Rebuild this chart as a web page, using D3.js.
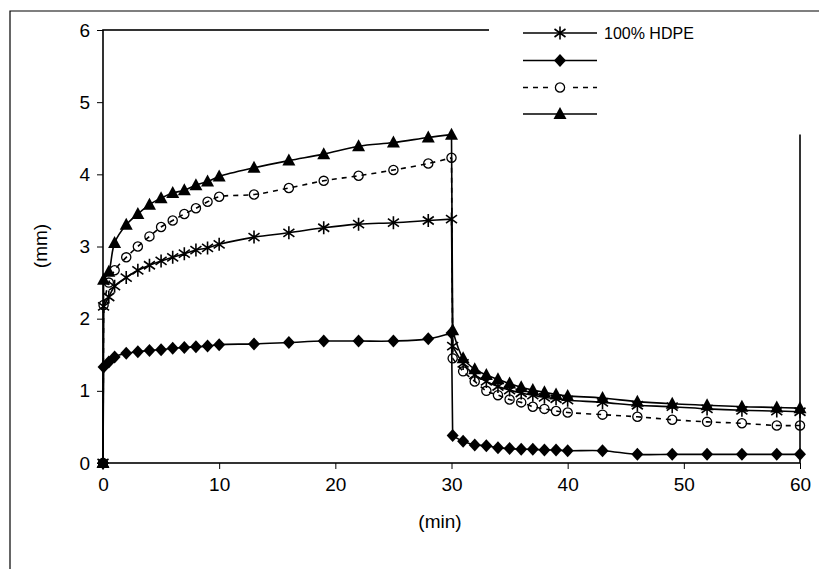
<!DOCTYPE html>
<html>
<head>
<meta charset="utf-8">
<script src="https://cdn.jsdelivr.net/npm/d3@7"></script>
<style>
  body { margin: 0; background: #fff; }
  svg { display: block; }
  text { font-family: "Liberation Sans", Arial, sans-serif; fill: #000; }
</style>
</head>
<body>
<svg id="chart" width="819" height="569"></svg>
<script>
// time (min), shared by all four series
var times = [0, 0.05, 0.5, 1, 2, 3, 4, 5, 6, 7, 8, 9, 10, 13, 16, 19, 22, 25, 28, 30,
  30.1, 31, 32, 33, 34, 35, 36, 37, 38, 39, 40, 43, 46, 49, 52, 55, 58, 60];

// deformation (mm)
var hdpe = [0, 2.17, 2.30, 2.45, 2.57, 2.67, 2.74, 2.80, 2.85, 2.90, 2.95, 2.98, 3.03, 3.13, 3.19, 3.26, 3.31, 3.33, 3.36, 3.38,
  1.62, 1.38, 1.22, 1.13, 1.06, 1.01, 0.97, 0.94, 0.91, 0.89, 0.87, 0.84, 0.80, 0.78, 0.75, 0.73, 0.72, 0.71];
var diamondSeries = [0, 1.33, 1.40, 1.47, 1.52, 1.54, 1.56, 1.57, 1.59, 1.60, 1.61, 1.62, 1.64, 1.65, 1.67, 1.69, 1.69, 1.69, 1.72, 1.80,
  0.38, 0.30, 0.25, 0.24, 0.21, 0.20, 0.19, 0.19, 0.18, 0.18, 0.17, 0.17, 0.12, 0.12, 0.12, 0.12, 0.12, 0.12];
var circleSeries = [0, 2.19, 2.50, 2.67, 2.85, 3.00, 3.14, 3.27, 3.36, 3.45, 3.53, 3.62, 3.69, 3.72, 3.81, 3.91, 3.98, 4.06, 4.15, 4.23,
  1.45, 1.27, 1.13, 1.00, 0.94, 0.88, 0.84, 0.78, 0.75, 0.72, 0.70, 0.67, 0.64, 0.60, 0.57, 0.55, 0.52, 0.52];
var triangleSeries = [0, 2.54, 2.65, 3.05, 3.30, 3.45, 3.58, 3.67, 3.74, 3.78, 3.85, 3.90, 3.97, 4.09, 4.19, 4.28, 4.39, 4.44, 4.51, 4.55,
  1.84, 1.45, 1.30, 1.22, 1.16, 1.10, 1.05, 1.01, 0.98, 0.95, 0.93, 0.90, 0.85, 0.82, 0.80, 0.78, 0.77, 0.76];

var seriesNames = ['100% HDPE', '', '', ''];
var xTicks = [0, 10, 20, 30, 40, 50, 60];
var yTicks = [0, 1, 2, 3, 4, 5, 6];

var svg = d3.select('#chart');
var x = d3.scaleLinear().domain([0, 60]).range([103, 800]);
var y = d3.scaleLinear().domain([0, 6]).range([463, 30]);

// marker shapes, drawn around 0,0
function markerPath(kind) {
  var p = d3.path();
  if (kind === 'star') {
    p.moveTo(0, -6.5); p.lineTo(0, 6.5);
    p.moveTo(-5.5, -4); p.lineTo(5.5, 4);
    p.moveTo(-5.5, 4); p.lineTo(5.5, -4);
  } else if (kind === 'diamond') {
    p.moveTo(0, -6.5); p.lineTo(6, 0); p.lineTo(0, 6.5); p.lineTo(-6, 0); p.closePath();
  } else if (kind === 'triangle') {
    p.moveTo(0, -7); p.lineTo(6.5, 5); p.lineTo(-6.5, 5); p.closePath();
  } else {
    p.arc(0, 0, 4.6, 0, 2 * Math.PI);
  }
  return p.toString();
}

function styleMarker(sel, kind) {
  if (kind === 'star') sel.attr('fill', 'none').attr('stroke', '#000').attr('stroke-width', 1.6);
  else if (kind === 'circle') sel.attr('fill', 'none').attr('stroke', '#000').attr('stroke-width', 1.3);
  else sel.attr('fill', '#000').attr('stroke', 'none');
}

var series = [
  { values: hdpe, marker: 'star', dash: null },
  { values: diamondSeries, marker: 'diamond', dash: null },
  { values: circleSeries, marker: 'circle', dash: '5,5' },
  { values: triangleSeries, marker: 'triangle', dash: null }
];

// outer chart border
svg.append('path').attr('d', 'M10,569V11H819').attr('fill', 'none').attr('stroke', '#000').attr('stroke-width', 1.2);

// plot frame
svg.append('rect').attr('x', x(0)).attr('y', y(6)).attr('width', x(60) - x(0)).attr('height', y(0) - y(6))
  .attr('fill', 'none').attr('stroke', '#000').attr('stroke-width', 1.6);

// axes
var yAxis = svg.append('g').attr('transform', 'translate(' + x(0) + ',0)')
  .call(d3.axisLeft(y).tickValues(yTicks).tickSize(6).tickPadding(7).tickFormat(d3.format('d')));
var xAxis = svg.append('g').attr('transform', 'translate(0,' + y(0) + ')')
  .call(d3.axisBottom(x).tickValues(xTicks).tickSize(6).tickPadding(9).tickFormat(d3.format('d')));
[yAxis, xAxis].forEach(function (ax) {
  ax.attr('font-family', null).attr('font-size', null);
  ax.select('.domain').remove();
  ax.selectAll('line').attr('stroke', '#000').attr('stroke-width', 1);
  ax.selectAll('text').style('font-size', '19px');
});

svg.append('text').attr('transform', 'translate(47,246) rotate(-90)').attr('text-anchor', 'middle')
  .style('font-size', '19px').text('(mm)');
svg.append('text').attr('x', 440).attr('y', 528).attr('text-anchor', 'middle')
  .style('font-size', '19px').text('(min)');

// series lines: straight jumps at 0 and 30, smoothed elsewhere
var smooth = d3.line().x(function (d) { return x(d[0]); }).y(function (d) { return y(d[1]); }).curve(d3.curveCatmullRom);
var straight = d3.line().x(function (d) { return x(d[0]); }).y(function (d) { return y(d[1]); });

series.forEach(function (s) {
  var pts = times.map(function (t, i) { return [t, s.values[i]]; });
  var d = straight(pts.slice(0, 2)) + smooth(pts.slice(1, 20)) + straight(pts.slice(19, 21)) + smooth(pts.slice(20));
  svg.append('path').attr('d', d).attr('fill', 'none').attr('stroke', '#000')
    .attr('stroke-width', 1.6).attr('stroke-dasharray', s.dash);
});

// markers
series.forEach(function (s) {
  var g = svg.append('g');
  times.forEach(function (t, i) {
    g.append('path').attr('d', markerPath(s.marker))
      .attr('transform', 'translate(' + x(t) + ',' + y(s.values[i]) + ')')
      .call(styleMarker, s.marker);
  });
});

// legend box, covers the frame's top right corner
var legend = svg.append('g');
legend.append('rect').attr('x', 489).attr('y', 12.5).attr('width', 330).attr('height', 122).attr('fill', '#fff');
var legendY = [33, 60.5, 87.5, 114];
series.forEach(function (s, i) {
  var ly = legendY[i];
  legend.append('line').attr('x1', 523).attr('x2', 597).attr('y1', ly).attr('y2', ly)
    .attr('stroke', '#000').attr('stroke-width', 1.6).attr('stroke-dasharray', s.dash ? '5,5' : null);
  if (s.marker === 'circle') {
    legend.append('rect').attr('x', 552).attr('y', ly - 6).attr('width', 16).attr('height', 12).attr('fill', '#fff');
  }
  legend.append('path').attr('d', markerPath(s.marker)).attr('transform', 'translate(560,' + ly + ')').call(styleMarker, s.marker);
  legend.append('text').attr('x', 604).attr('y', ly + 6).style('font-size', '16px').text(seriesNames[i]);
});
</script>
</body>
</html>
